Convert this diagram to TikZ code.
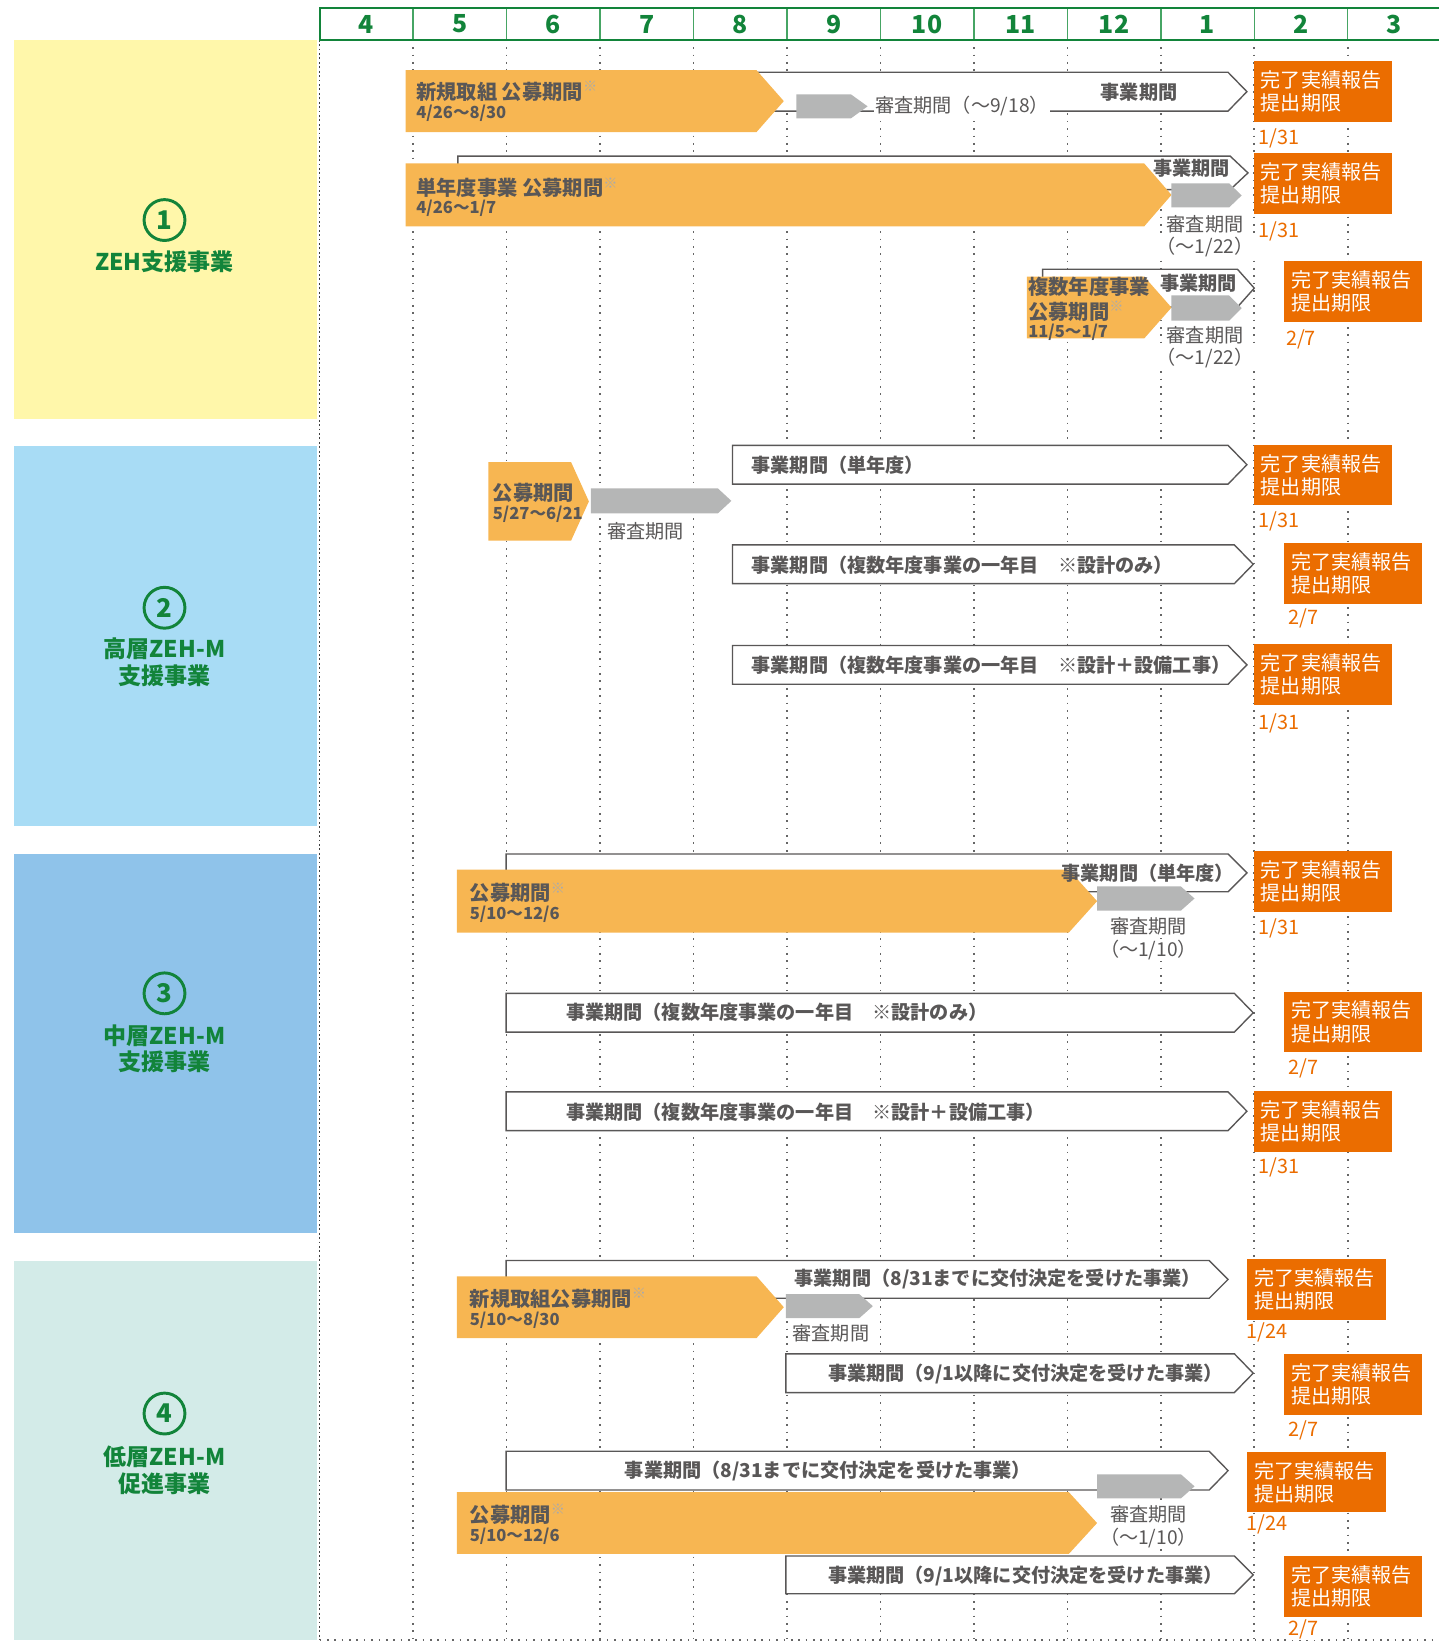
\documentclass[tikz,border=0pt]{standalone}
\usepackage{fontspec}
\setmainfont{Noto Sans CJK JP}
\usepackage{xcolor}
\definecolor{kobo}{RGB}{247,182,82}
\definecolor{shinsa}{RGB}{181,182,182}
\definecolor{kanryoorange}{RGB}{235,109,0}
\definecolor{textgray}{RGB}{89,87,87}
\definecolor{komegray}{RGB}{170,170,170}
\definecolor{headgreen}{RGB}{18,132,58}
\definecolor{headline}{RGB}{70,165,100}
\definecolor{zehyellow}{RGB}{255,247,170}
\definecolor{kosoblue}{RGB}{168,220,245}
\definecolor{chusoblue}{RGB}{143,195,234}
\definecolor{teisogreen}{RGB}{211,235,232}
\newcommand\kome{\textsuperscript{\color{komegray}※}}
% style, x1, x2, ytop, ybottom, tip depth
\newcommand\tagshape[6]{\path[#1] (#2,#4) -- ({#3-#6},#4) -- (#3,{(#4+#5)/2}) -- ({#3-#6},#5) -- (#2,#5) -- cycle;}

\begin{document}
\begin{tikzpicture}[x=0.02cm,y=-0.02cm,
        kobo/.style={fill=kobo},
        shinsa/.style={fill=shinsa},
        jigyo/.style={fill=white,draw=textgray,line width=0.75pt},
        grid/.style={draw=black!60,line width=0.9pt,dash pattern=on 0.9pt off 3.1pt},
        month/.style={text=headgreen,font=\fontsize{13.5}{13.5}\selectfont\bfseries},
        section/.style={text=headgreen,align=center,font=\fontsize{12.5}{14.5}\selectfont\bfseries},
        number/.style={circle,draw=headgreen,line width=1.6pt,minimum size=0.78cm,inner sep=0pt,text=headgreen,font=\fontsize{14}{14}\selectfont\bfseries},
        kobotext/.style={anchor=west,inner sep=0pt,text=textgray,font=\fontsize{11}{12}\selectfont\bfseries},
        kobodate/.style={anchor=west,inner sep=0pt,text=textgray,font=\fontsize{9}{10}\selectfont\bfseries},
        jigyotext/.style={anchor=west,inner sep=0pt,text=textgray,font=\fontsize{10.4}{12}\selectfont\bfseries},
        shinsatext/.style={fill=white,inner sep=0.6pt,text=textgray,font=\fontsize{10.4}{12}\selectfont},
        kanryo/.style={rectangle,fill=kanryoorange,text=white,anchor=north west,minimum width=2.64cm,minimum height=1.16cm,
            text width=2.36cm,inner xsep=0.14cm,align=left,font=\fontsize{10.9}{12.6}\selectfont},
        kigen/.style={anchor=west,fill=white,inner sep=0.6pt,text=kanryoorange,font=\fontsize{10.8}{12}\selectfont}]
        \useasboundingbox (0,0) rectangle (1373,1568);

        % left panels
        \fill[zehyellow] (13,38) rectangle (303,400);
        \fill[kosoblue] (13,426) rectangle (303,788);
        \fill[chusoblue] (13,815) rectangle (303,1177);
        \fill[teisogreen] (13,1203) rectangle (303,1565);
        \node[number] (num1) at (157,210) {1};
        \node[section] (sec1) at (157,250) {ZEH支援事業};
        \node[number] (num2) at (157,580) {2};
        \node[section] (sec2) at (157,632) {高層ZEH-M\\支援事業};
        \node[number] (num3) at (157,948) {3};
        \node[section] (sec3) at (157,1001) {中層ZEH-M\\支援事業};
        \node[number] (num4) at (157,1349) {4};
        \node[section] (sec4) at (157,1403) {低層ZEH-M\\促進事業};

        % month header and grid
        \foreach \i in {1,...,11} \draw[grid] ({305+89.2*\i},38) -- ({305+89.2*\i},1565);
        \draw[grid,draw=black!75,dash pattern=on 1pt off 1.4pt] (305,38) -- (305,1565);
        \draw[grid] (305,1565) -- (1373,1565);
        \foreach \i in {1,...,11} \draw[headline,line width=0.8pt] ({305+89.2*\i},8) -- ({305+89.2*\i},38);
        \draw[headgreen,line width=1.1pt] (1380,8) -- (305,8) -- (305,38) -- (1380,38);
        \foreach \m [count=\i from 0] in {4,5,6,7,8,9,10,11,12,1,2,3}
            \node[month] (m\i) at ({349.6+89.2*\i},23) {\m};

        % 1 ZEH
        \tagshape{jigyo}{700}{1190}{69}{106}{18}
        \tagshape{jigyo}{437}{1191}{149}{181}{17}
        \tagshape{jigyo}{995}{1197}{257}{293}{16}
        \tagshape{kobo}{387}{748}{67}{126}{26}
        \tagshape{kobo}{387}{1118}{156}{216}{26}
        \tagshape{kobo}{980}{1118}{264}{323}{26}
        \tagshape{shinsa}{760}{828}{90}{113}{16}
        \tagshape{shinsa}{1118}{1185}{175}{198}{12}
        \tagshape{shinsa}{1118}{1185}{282}{306}{12}
        \node[kobotext] (kobo1) at (397,87) {新規取組 公募期間\kome};
        \node[kobodate] (kobo1d) at (397,108) {4/26～8/30};
        \node[shinsatext,anchor=west] (shinsa1) at (834,101) {審査期間（～9/18）};
        \node[jigyotext,anchor=center] (jigyo1) at (1087,88) {事業期間};
        \node[kobotext] (kobo2) at (397,179) {単年度事業 公募期間\kome};
        \node[kobodate] (kobo2d) at (397,199) {4/26～1/7};
        \node[jigyotext,anchor=east] (jigyo2) at (1174,161) {事業期間};
        \node[shinsatext] (shinsa2) at (1150,214) {審査期間};
        \node[shinsatext] (shinsa2d) at (1150,236) {（～1/22）};
        \node[kobotext] (kobo3) at (981,274) {複数年度事業};
        \node[kobotext] (kobo3b) at (981,297) {公募期間\kome};
        \node[kobodate] (kobo3d) at (981,317) {11/5～1/7};
        \node[jigyotext,anchor=east] (jigyo3) at (1181,270) {事業期間};
        \node[shinsatext] (shinsa3) at (1150,320) {審査期間};
        \node[shinsatext] (shinsa3d) at (1150,342) {（～1/22）};
        \node[kanryo] (kanryo1) at (1196,58) {完了実績報告\\提出期限};
        \node[kigen] (kigen1) at (1200,132) {1/31};
        \node[kanryo] (kanryo2) at (1196,146) {完了実績報告\\提出期限};
        \node[kigen] (kigen2) at (1200,221) {1/31};
        \node[kanryo] (kanryo3) at (1225,249) {完了実績報告\\提出期限};
        \node[kigen] (kigen3) at (1226,324) {2/7};

        % 2 高層
        \tagshape{kobo}{466}{562}{441}{516}{17}
        \tagshape{shinsa}{564}{698}{466}{490}{13}
        \tagshape{jigyo}{699}{1190}{425}{462}{18}
        \tagshape{jigyo}{699}{1196}{520}{557}{18}
        \tagshape{jigyo}{699}{1190}{616}{653}{18}
        \node[kobotext] (kobo4) at (470,470) {公募期間};
        \node[kobodate] (kobo4d) at (470,491) {5/27～6/21};
        \node[shinsatext,anchor=west] (shinsa4) at (578,507) {審査期間};
        \node[jigyotext] (jigyo4) at (717,444) {事業期間（単年度）};
        \node[jigyotext] (jigyo5) at (717,539) {事業期間（複数年度事業の一年目　※設計のみ）};
        \node[jigyotext] (jigyo6) at (717,635) {事業期間（複数年度事業の一年目　※設計＋設備工事）};
        \node[kanryo] (kanryo4) at (1196,424) {完了実績報告\\提出期限};
        \node[kigen] (kigen4) at (1200,498) {1/31};
        \node[kanryo] (kanryo5) at (1225,518) {完了実績報告\\提出期限};
        \node[kigen] (kigen5) at (1228,590) {2/7};
        \node[kanryo] (kanryo6) at (1196,614) {完了実績報告\\提出期限};
        \node[kigen] (kigen6) at (1200,690) {1/31};

        % 3 中層
        \tagshape{jigyo}{483}{1190}{815}{851}{18}
        \tagshape{kobo}{436}{1047}{830}{890}{27}
        \tagshape{shinsa}{1047}{1140}{846}{869}{13}
        \tagshape{jigyo}{483}{1196}{948}{985}{18}
        \tagshape{jigyo}{483}{1190}{1042}{1079}{18}
        \node[jigyotext,anchor=east] (jigyo7) at (1178,833) {事業期間（単年度）};
        \node[kobotext] (kobo5) at (448,852) {公募期間\kome};
        \node[kobodate] (kobo5d) at (448,873) {5/10～12/6};
        \node[shinsatext] (shinsa5) at (1096,884) {審査期間};
        \node[shinsatext] (shinsa5d) at (1096,907) {（～1/10）};
        \node[jigyotext] (jigyo8) at (540,966) {事業期間（複数年度事業の一年目　※設計のみ）};
        \node[jigyotext] (jigyo9) at (540,1061) {事業期間（複数年度事業の一年目　※設計＋設備工事）};
        \node[kanryo] (kanryo7) at (1196,812) {完了実績報告\\提出期限};
        \node[kigen] (kigen7) at (1200,886) {1/31};
        \node[kanryo] (kanryo8) at (1225,946) {完了実績報告\\提出期限};
        \node[kigen] (kigen8) at (1228,1020) {2/7};
        \node[kanryo] (kanryo9) at (1196,1041) {完了実績報告\\提出期限};
        \node[kigen] (kigen9) at (1200,1114) {1/31};

        % 4 低層
        \tagshape{jigyo}{483}{1172}{1203}{1239}{18}
        \tagshape{kobo}{436}{748}{1218}{1277}{26}
        \tagshape{shinsa}{750}{833}{1235}{1258}{13}
        \tagshape{jigyo}{750}{1196}{1292}{1329}{18}
        \tagshape{jigyo}{483}{1172}{1385}{1422}{18}
        \tagshape{kobo}{436}{1047}{1424}{1483}{27}
        \tagshape{shinsa}{1047}{1140}{1407}{1430}{13}
        \tagshape{jigyo}{750}{1196}{1485}{1521}{18}
        \node[jigyotext] (jigyo10) at (758,1221) {事業期間（8/31までに交付決定を受けた事業）};
        \node[kobotext] (kobo6) at (448,1239) {新規取組公募期間\kome};
        \node[kobodate] (kobo6d) at (448,1260) {5/10～8/30};
        \node[shinsatext,anchor=west] (shinsa6) at (755,1272) {審査期間};
        \node[jigyotext] (jigyo11) at (790,1311) {事業期間（9/1以降に交付決定を受けた事業）};
        \node[jigyotext] (jigyo12) at (596,1404) {事業期間（8/31までに交付決定を受けた事業）};
        \node[kobotext] (kobo7) at (448,1445) {公募期間\kome};
        \node[kobodate] (kobo7d) at (448,1466) {5/10～12/6};
        \node[shinsatext] (shinsa7) at (1096,1445) {審査期間};
        \node[shinsatext] (shinsa7d) at (1096,1468) {（～1/10）};
        \node[jigyotext] (jigyo13) at (790,1504) {事業期間（9/1以降に交付決定を受けた事業）};
        \node[kanryo] (kanryo10) at (1190,1201) {完了実績報告\\提出期限};
        \node[kigen] (kigen10) at (1188,1272) {1/24};
        \node[kanryo] (kanryo11) at (1225,1292) {完了実績報告\\提出期限};
        \node[kigen] (kigen11) at (1228,1365) {2/7};
        \node[kanryo] (kanryo12) at (1190,1385) {完了実績報告\\提出期限};
        \node[kigen] (kigen12) at (1188,1455) {1/24};
        \node[kanryo] (kanryo13) at (1225,1485) {完了実績報告\\提出期限};
        \node[kigen] (kigen13) at (1228,1555) {2/7};
    \end{tikzpicture}
\end{document}
